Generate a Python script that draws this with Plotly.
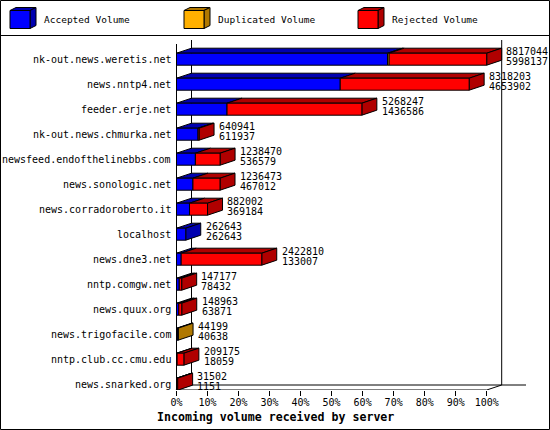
import plotly.graph_objects as go

# ---------------- data ----------------
hosts = [
    "nk-out.news.weretis.net", "news.nntp4.net", "feeder.erje.net",
    "nk-out.news.chmurka.net", "newsfeed.endofthelinebbs.com",
    "news.sonologic.net", "news.corradoroberto.it", "localhost",
    "news.dne3.net", "nntp.comgw.net", "news.quux.org",
    "news.trigofacile.com", "nntp.club.cc.cmu.edu", "news.snarked.org",
]
total_volume = [8817044, 8318203, 5268247, 640941, 1238470, 1236473, 882002,
                262643, 2422810, 147177, 148963, 44199, 209175, 31502]
accepted_volume = [5998137, 4653902, 1436586, 611937, 536579, 467012, 369184,
                   262643, 133007, 78432, 63871, 40638, 18059, 1151]
duplicated_volume = [45000, 0, 0, 0, 0, 0, 0, 0, 0, 0, 0, 3561, 0, 0]
rejected_volume = [t - a - d for t, a, d in zip(total_volume, accepted_volume, duplicated_volume)]
x_ticks = list(range(0, 101, 10))
x_tick_labels = [f"{v}%" for v in x_ticks]
series_names = ["Accepted Volume", "Duplicated Volume", "Rejected Volume"]

# ---------------- style ----------------
FONT = "DejaVu Sans Mono"
front_colors = ["#0000FF", "#FFB000", "#FF0000"]
dark_colors = ["#0000B0", "#B07800", "#B00000"]

W, H = 550, 430
ML, MR, MT, MB = 0, 0, 36, 40
PX_PER_PCT = 3.102
X0_PX = 176.5
xa = -X0_PX / PX_PER_PCT
xb = xa + (W - ML - MR) / PX_PER_PCT
ROW_PX = 25.0
Y0_PX = 59.2
y_top = (MT - Y0_PX) / ROW_PX
y_bot = (H - MB - Y0_PX) / ROW_PX

DX = 15 / PX_PER_PCT      # depth in x (percent units)
DY = 5 / ROW_PX           # depth in y (row units)
HALF = 6 / ROW_PX         # half front height

vmax = max(total_volume)
series = [accepted_volume, duplicated_volume, rejected_volume]

fig = go.Figure()

fronts = [([], []) for _ in range(3)]
tops = [([], []) for _ in range(3)]
sides = [([], []) for _ in range(3)]

for i in range(len(hosts)):
    cum = 0.0
    last = None
    for s in range(3):
        v = series[s][i]
        if v <= 0:
            continue
        x0 = cum / vmax * 100
        cum += v
        x1 = cum / vmax * 100
        fx, fy = fronts[s]
        fx += [x0, x1, x1, x0, x0, None]
        fy += [i - HALF, i - HALF, i + HALF, i + HALF, i - HALF, None]
        tx, ty = tops[s]
        tx += [x0, x1, x1 + DX, x0 + DX, x0, None]
        ty += [i - HALF, i - HALF, i - HALF - DY, i - HALF - DY, i - HALF, None]
        last = (s, x1)
    if last:
        s, xe = last
        sx, sy = sides[s]
        sx += [xe, xe + DX, xe + DX, xe, xe, None]
        sy += [i - HALF, i - HALF - DY, i + HALF - DY, i + HALF, i - HALF, None]

for group, cols in ((tops, dark_colors), (sides, dark_colors), (fronts, front_colors)):
    for s in range(3):
        xs, ys = group[s]
        if not xs:
            continue
        fig.add_trace(go.Scatter(
            x=xs, y=ys, mode="lines", fill="toself", fillcolor=cols[s],
            line=dict(color="black", width=1), hoverinfo="skip", showlegend=False,
            name=series_names[s]))

# ---------------- walls / floor ----------------
def yl(py):
    return (py - Y0_PX) / ROW_PX

def xl(px):
    return (px - X0_PX) / PX_PER_PCT

line_k = dict(color="black", width=1)
shapes = [
    dict(type="line", xref="x", yref="y", x0=DX, x1=DX, y0=yl(40), y1=yl(385), line=line_k, layer="below"),
    dict(type="line", xref="x", yref="y", x0=100 + DX, x1=100 + DX, y0=yl(40), y1=yl(385), line=line_k, layer="below"),
    dict(type="line", xref="x", yref="y", x0=DX, x1=xl(526), y0=yl(385), y1=yl(385), line=line_k, layer="below"),
    dict(type="line", xref="x", yref="y", x0=0, x1=0, y0=yl(44), y1=yl(390), line=line_k, layer="below"),
    dict(type="line", xref="x", yref="y", x0=0, x1=100, y0=yl(390), y1=yl(390), line=line_k, layer="below"),
    dict(type="line", xref="x", yref="y", x0=100, x1=100 + DX, y0=yl(390), y1=yl(385), line=line_k, layer="below"),
    dict(type="line", xref="x", yref="y", x0=xl(162), x1=DX, y0=yl(395), y1=yl(385), line=line_k, layer="below"),
]

# ---------------- legend & frame (paper coords) ----------------
PH = H - MT - MB
def px_(x):
    return (x - ML) / (W - ML - MR)
def py_(y):
    return (H - MB - y) / PH

def poly(pts):
    return "M " + " L ".join(f"{px_(a)},{py_(b)}" for a, b in pts) + " Z"

for k, lx in enumerate([10, 184, 358]):
    fx0, fx1, fy0, fy1 = lx, lx + 20, 10.5, 28.5
    shapes.append(dict(type="path", xref="paper", yref="paper",
                       path=poly([(fx0, fy0), (fx1, fy0), (fx1 + 6, fy0 - 3), (fx0 + 6, fy0 - 3)]),
                       fillcolor=dark_colors[k], line=line_k))
    shapes.append(dict(type="path", xref="paper", yref="paper",
                       path=poly([(fx1, fy0), (fx1 + 6, fy0 - 3), (fx1 + 6, fy1 - 3), (fx1, fy1)]),
                       fillcolor=dark_colors[k], line=line_k))
    shapes.append(dict(type="path", xref="paper", yref="paper",
                       path=poly([(fx0, fy0), (fx1, fy0), (fx1, fy1), (fx0, fy1)]),
                       fillcolor=front_colors[k], line=line_k))

shapes.append(dict(type="rect", xref="paper", yref="paper",
                   x0=px_(0.5), x1=px_(549.5), y0=py_(429.5), y1=py_(0.5),
                   line=dict(color="black", width=1)))
shapes.append(dict(type="line", xref="paper", yref="paper",
                   x0=px_(0), x1=px_(550), y0=py_(35.5), y1=py_(35.5),
                   line=dict(color="black", width=1)))

annotations = []
for k, lx in enumerate([42, 216, 390]):
    annotations.append(dict(xref="paper", yref="paper", x=px_(lx), y=py_(20), text=series_names[k],
                            xanchor="left", yanchor="middle", showarrow=False,
                            font=dict(family=FONT, size=9.5, color="black")))

for i, h in enumerate(hosts):
    annotations.append(dict(xref="x", yref="y", x=xl(173), y=i, text=h, xanchor="right",
                            yanchor="middle", showarrow=False,
                            font=dict(family=FONT, size=10, color="black")))
    xv = total_volume[i] / vmax * 100 + DX + 0.9
    annotations.append(dict(xref="x", yref="y", x=xv, y=i - 0.3, text=str(total_volume[i]),
                            xanchor="left", yanchor="middle", showarrow=False,
                            font=dict(family=FONT, size=10, color="black")))
    annotations.append(dict(xref="x", yref="y", x=xv, y=i + 0.1, text=str(accepted_volume[i]),
                            xanchor="left", yanchor="middle", showarrow=False,
                            font=dict(family=FONT, size=10, color="black")))

annotations.append(dict(xref="paper", yref="paper", x=0.5, y=py_(416.5),
                        text="<b>Incoming volume received by server</b>",
                        xanchor="center", yanchor="middle", showarrow=False,
                        font=dict(family=FONT, size=11.6, color="black")))

fig.update_layout(
    width=W, height=H, margin=dict(l=ML, r=MR, t=MT, b=MB, pad=0),
    paper_bgcolor="white", plot_bgcolor="white", showlegend=False,
    shapes=shapes, annotations=annotations,
    xaxis=dict(range=[xa, xb], tickvals=x_ticks, ticktext=x_tick_labels,
               ticks="outside", ticklen=5, tickwidth=1, tickcolor="black",
               ticklabelstandoff=-2,
               tickfont=dict(family=FONT, size=10, color="black"),
               showgrid=False, zeroline=False, showline=False, fixedrange=True),
    yaxis=dict(range=[y_bot, y_top], visible=False, fixedrange=True),
)

fig.write_html("out.html", config={"displayModeBar": False},
               post_script="document.body.style.margin='0px';document.body.style.padding='0px';")
